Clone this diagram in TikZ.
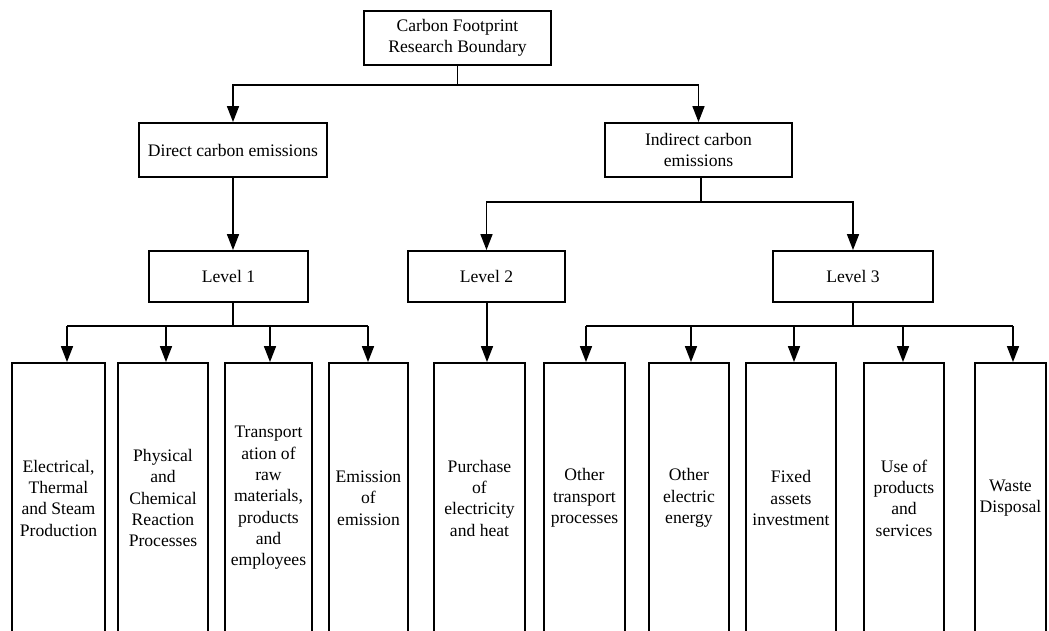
\documentclass[tikz,border=0pt]{standalone}
\usepackage{fontspec}
\setmainfont{Liberation Serif}
\usetikzlibrary{arrows.meta}
\begin{document}
\begin{tikzpicture}[x=0.75pt,y=-0.75pt,
  box/.style={draw, line width=1.4pt, inner sep=0pt, align=center,
    font=\fontsize{13.2}{16}\selectfont},
  sz/.style 2 args={minimum width=#1*0.75pt, minimum height=#2*0.75pt},
  conn/.style={line width=1.2pt},
  arr/.style={conn, -{Triangle[length=12pt,width=9pt]}}]
\useasboundingbox (0,0) rectangle (1049,631);
\clip (0,0) rectangle (1049,631);
% upper nodes
\node[box, sz={187}{54}] (top) at (457.5,38) {Carbon Footprint\\Research Boundary};
\node[box, sz={188}{54}] (dir) at (233,150) {Direct carbon emissions};
\node[box, sz={187}{54}] (ind) at (698.5,150) {Indirect carbon\\emissions};
\node[box, sz={159}{51}] (l1) at (228.5,276.5) {Level 1};
\node[box, sz={157}{51}] (l2) at (486.5,276.5) {Level 2};
\node[box, sz={160}{51}] (l3) at (853,276.5) {Level 3};
% bottom nodes
\node[box, sz={93}{270}] (b1) at (58.5,498) {Electrical,\\Thermal\\and Steam\\Production};
\node[box, sz={90}{270}] (b2) at (163,498) {Physical\\and\\Chemical\\Reaction\\Processes};
\node[box, sz={87}{270}] (b3) at (268.5,498) {Transport\\ation of\\raw\\materials,\\products\\and\\employees};
\node[box, sz={79}{270}] (b4) at (368.5,498) {Emission\\of\\emission};
\node[box, sz={91}{270}] (b5) at (479.5,498) {Purchase\\of\\electricity\\and heat};
\node[box, sz={81}{270}] (b6) at (584.5,498) {Other\\transport\\processes};
\node[box, sz={80}{270}] (b7) at (689,498) {Other\\electric\\energy};
\node[box, sz={90}{270}] (b8) at (791,498) {Fixed\\assets\\investment};
\node[box, sz={80}{270}] (b9) at (904,498) {Use of\\products\\and\\services};
\node[box, sz={71}{270}] (b10) at (1010.5,498) {Waste\\Disposal};
% junction coordinates
\coordinate (j0) at (457.5,85);
\coordinate (j1) at (701,202);
\coordinate (j2) at (233,326);
\coordinate (j3) at (853,326);
\coordinate (a1) at (67,326);
\coordinate (a2) at (166,326);
\coordinate (a3) at (270,326);
\coordinate (a4) at (368,326);
\coordinate (a6) at (586,326);
\coordinate (a7) at (691,326);
\coordinate (a8) at (794,326);
\coordinate (a9) at (903,326);
\coordinate (a10) at (1013,326);
\coordinate (a5) at (487,326);
% connectors
\draw[conn] (top.south) -- (j0);
\draw[arr] (j0) -| (dir.north);
\draw[arr] (j0) -| (ind.north);
\draw[arr] (dir.south) -- (dir.south |- l1.north);
\draw[conn] (ind.south -| j1) -- (j1);
\draw[arr] (j1) -| (l2.north);
\draw[arr] (j1) -| (l3.north);
\draw[conn] (l1.south -| j2) -- (j2);
\draw[conn] (a1) -- (a4);
\draw[conn] (l3.south) -- (j3);
\draw[conn] (a6) -- (a10);
\draw[arr] (a1) -- (a1 |- b1.north);
\draw[arr] (a2) -- (a2 |- b2.north);
\draw[arr] (a3) -- (a3 |- b3.north);
\draw[arr] (a4) -- (a4 |- b4.north);
\draw[arr] (l2.south -| a5) -- (a5 |- b5.north);
\draw[arr] (a6) -- (a6 |- b6.north);
\draw[arr] (a7) -- (a7 |- b7.north);
\draw[arr] (a8) -- (a8 |- b8.north);
\draw[arr] (a9) -- (a9 |- b9.north);
\draw[arr] (a10) -- (a10 |- b10.north);
\end{tikzpicture}
\end{document}
